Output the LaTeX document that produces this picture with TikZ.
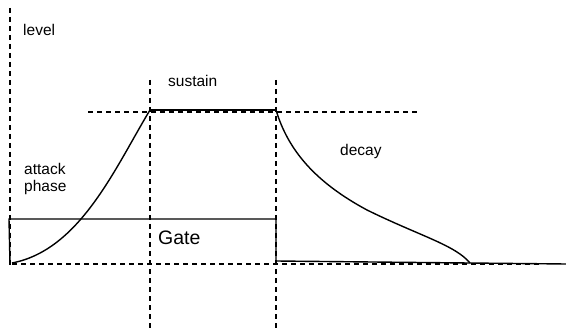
\documentclass[tikz,border=0pt]{standalone}
\usepackage{fontspec}
\setmainfont{Liberation Sans}
\begin{document}
\begin{tikzpicture}[x=1pt,y=-1pt,
  guide/.style={line width=1.6pt, dash pattern=on 5pt off 4pt},
  curve/.style={line width=1.4pt},
  lbl/.style={inner sep=0pt, anchor=base west, font=\fontsize{15.5}{18}\selectfont},
  gatelbl/.style={inner sep=0pt, anchor=base west, font=\fontsize{19.5}{22}\selectfont}]
\useasboundingbox (0,0) rectangle (566,329);
% key points
\coordinate (axtop) at (10,8);
\coordinate (axbot) at (10,265);
\coordinate (s1top) at (150,80);
\coordinate (s1bot) at (150,329);
\coordinate (s2top) at (276,80);
\coordinate (s2bot) at (276,329);
\coordinate (hl) at (88,112);
\coordinate (hr) at (418,112);
\coordinate (bl) at (12,264);
\coordinate (br) at (540,264);
\coordinate (start) at (12,263);
\coordinate (peak) at (150,110);
\coordinate (rel) at (276,110);
\coordinate (mid) at (367,210);
\coordinate (zero) at (470,263);
\coordinate (gtl) at (9,219);
\coordinate (gtr) at (276,219);
\coordinate (gbl) at (10,264);
\coordinate (gbr) at (276,262);
\coordinate (lowl) at (276,261);
\coordinate (lowr) at (566,264);
% guides
\draw[guide] (axtop) -- (axbot);
\draw[guide] (s1top) -- (s1bot);
\draw[guide] (s2top) -- (s2bot);
\draw[guide] (hl) -- (hr);
\draw[guide] (bl) -- (br);
% envelope
\draw[curve] (start) .. controls (80,250) and (115,168) .. (peak);
\draw[curve] (peak) -- (rel);
\draw[curve] (rel) .. controls (288,150) and (315,182) .. (mid)
  .. controls (420,236) and (455,245) .. (zero);
% gate
\draw[curve] (gbl) -- (gtl) -- (gtr) -- (gbr);
\draw[curve] (lowl) -- (lowr);
% labels
\node[lbl] (level) at (23,36) {level};
\node[lbl] (sustain) at (168,87) {sustain};
\node[lbl] (decay) at (340,156) {decay};
\node[lbl] (attack) at (24,175) {attack};
\node[lbl] (phase) at (24,191) {phase};
\node[gatelbl] (gate) at (158,244) {Gate};
\end{tikzpicture}
\end{document}
